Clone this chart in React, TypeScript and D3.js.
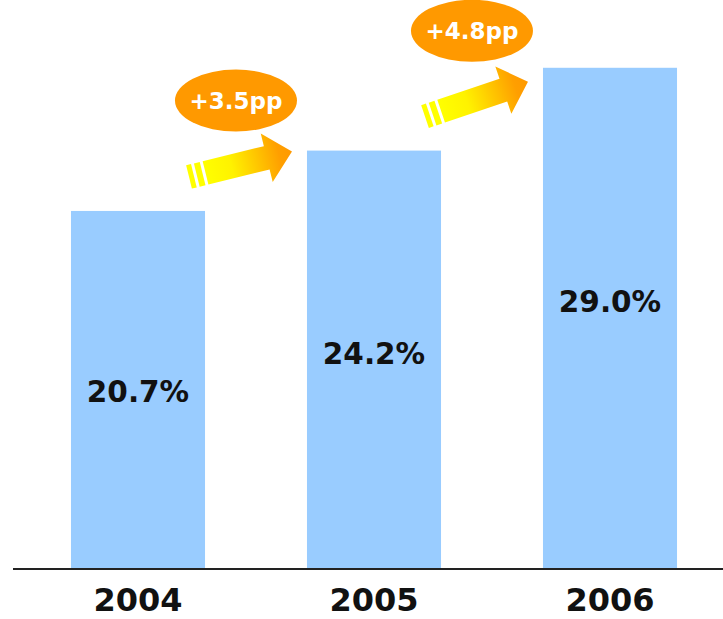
import React from "react";
import * as d3 from "d3";

const years = ["2004", "2005", "2006"];
const shares = [20.7, 24.2, 29.0];
const valueLabels = ["20.7%", "24.2%", "29.0%"];
const changeLabels = ["+3.5pp", "+4.8pp"];

const W = 723;
const H = 619;
const FONT = "'DejaVu Sans', Verdana, sans-serif";

export default function App() {
  const x = d3.scaleBand<string>().domain(years).range([20, 728]).paddingInner(0.432).paddingOuter(0.216);
  const y = d3.scaleLinear().domain([0, 32.93]).range([568, 0]);
  const bw = x.bandwidth();

  const arrows = changeLabels.map((lbl, i) => {
    const diff = shares[i + 1] - shares[i];
    const tailX = (x(years[i]) as number) + bw - 16;
    const tailY = y(shares[i]) - 34;
    const tipX = (x(years[i + 1]) as number) - 15;
    const tipY = tailY - diff * 7.25;
    const angle = (Math.atan2(tipY - tailY, tipX - tailX) * 180) / Math.PI;
    const len = Math.hypot(tipX - tailX, tipY - tailY);
    return { lbl, tailX, tailY, tipX, tipY, angle, len };
  });

  return (
    <svg width={W} height={H} style={{ position: "absolute", left: 0, top: 0, display: "block" }}>
      <defs>
        <linearGradient id="arrowGrad" x1="0" y1="0" x2="1" y2="0">
          <stop offset="0" stopColor="#ffff00" />
          <stop offset="0.3" stopColor="#fff200" />
          <stop offset="0.85" stopColor="#ff9f00" />
          <stop offset="1" stopColor="#ff9900" />
        </linearGradient>
      </defs>
      <rect width={W} height={H} fill="#fff" />
      {years.map((yr, i) => (
        <rect key={yr} x={x(yr)} y={y(shares[i])} width={bw} height={y(0) - y(shares[i])} fill="#99ccff" />
      ))}
      <line x1={13} x2={723} y1={y(0) + 1} y2={y(0) + 1} stroke="#222" strokeWidth={2} />
      {years.map((yr, i) => (
        <text
          key={"v" + yr}
          x={(x(yr) as number) + bw / 2}
          y={y(0.63 * shares[i] - 2.8) + 11}
          textAnchor="middle"
          fontFamily={FONT}
          fontWeight="bold"
          fontSize={29.5}
          fill="#111"
        >
          {valueLabels[i]}
        </text>
      ))}
      {years.map((yr) => (
        <text
          key={"y" + yr}
          x={(x(yr) as number) + bw / 2}
          y={611}
          textAnchor="middle"
          fontFamily={FONT}
          fontWeight="bold"
          fontSize={32}
          fill="#111"
        >
          {yr}
        </text>
      ))}
      {arrows.map((a, i) => {
        const L = a.len;
        const hb = 12;
        const hh = 25;
        const headLen = 26;
        const bodyStart = 17;
        const body = `M${bodyStart},${-hb} L${L - headLen},${-hb} L${L - headLen},${-hh} L${L},0 L${L - headLen},${hh} L${L - headLen},${hb} L${bodyStart},${hb} Z`;
        return (
          <g key={"a" + i}>
            <g transform={`translate(${a.tailX},${a.tailY}) rotate(${a.angle})`}>
              <rect x={0} y={-hb} width={5} height={hb * 2} fill="#ffff00" />
              <rect x={8} y={-hb} width={6} height={hb * 2} fill="#ffff00" />
              <path d={body} fill="url(#arrowGrad)" />
            </g>
            <ellipse cx={a.tipX - 56} cy={a.tipY - 51} rx={61} ry={31} fill="#ff9900" />
            <text
              x={a.tipX - 56}
              y={a.tipY - 43}
              textAnchor="middle"
              fontFamily={FONT}
              fontWeight="bold"
              fontSize={23}
              fill="#fff"
            >
              {a.lbl}
            </text>
          </g>
        );
      })}
    </svg>
  );
}
